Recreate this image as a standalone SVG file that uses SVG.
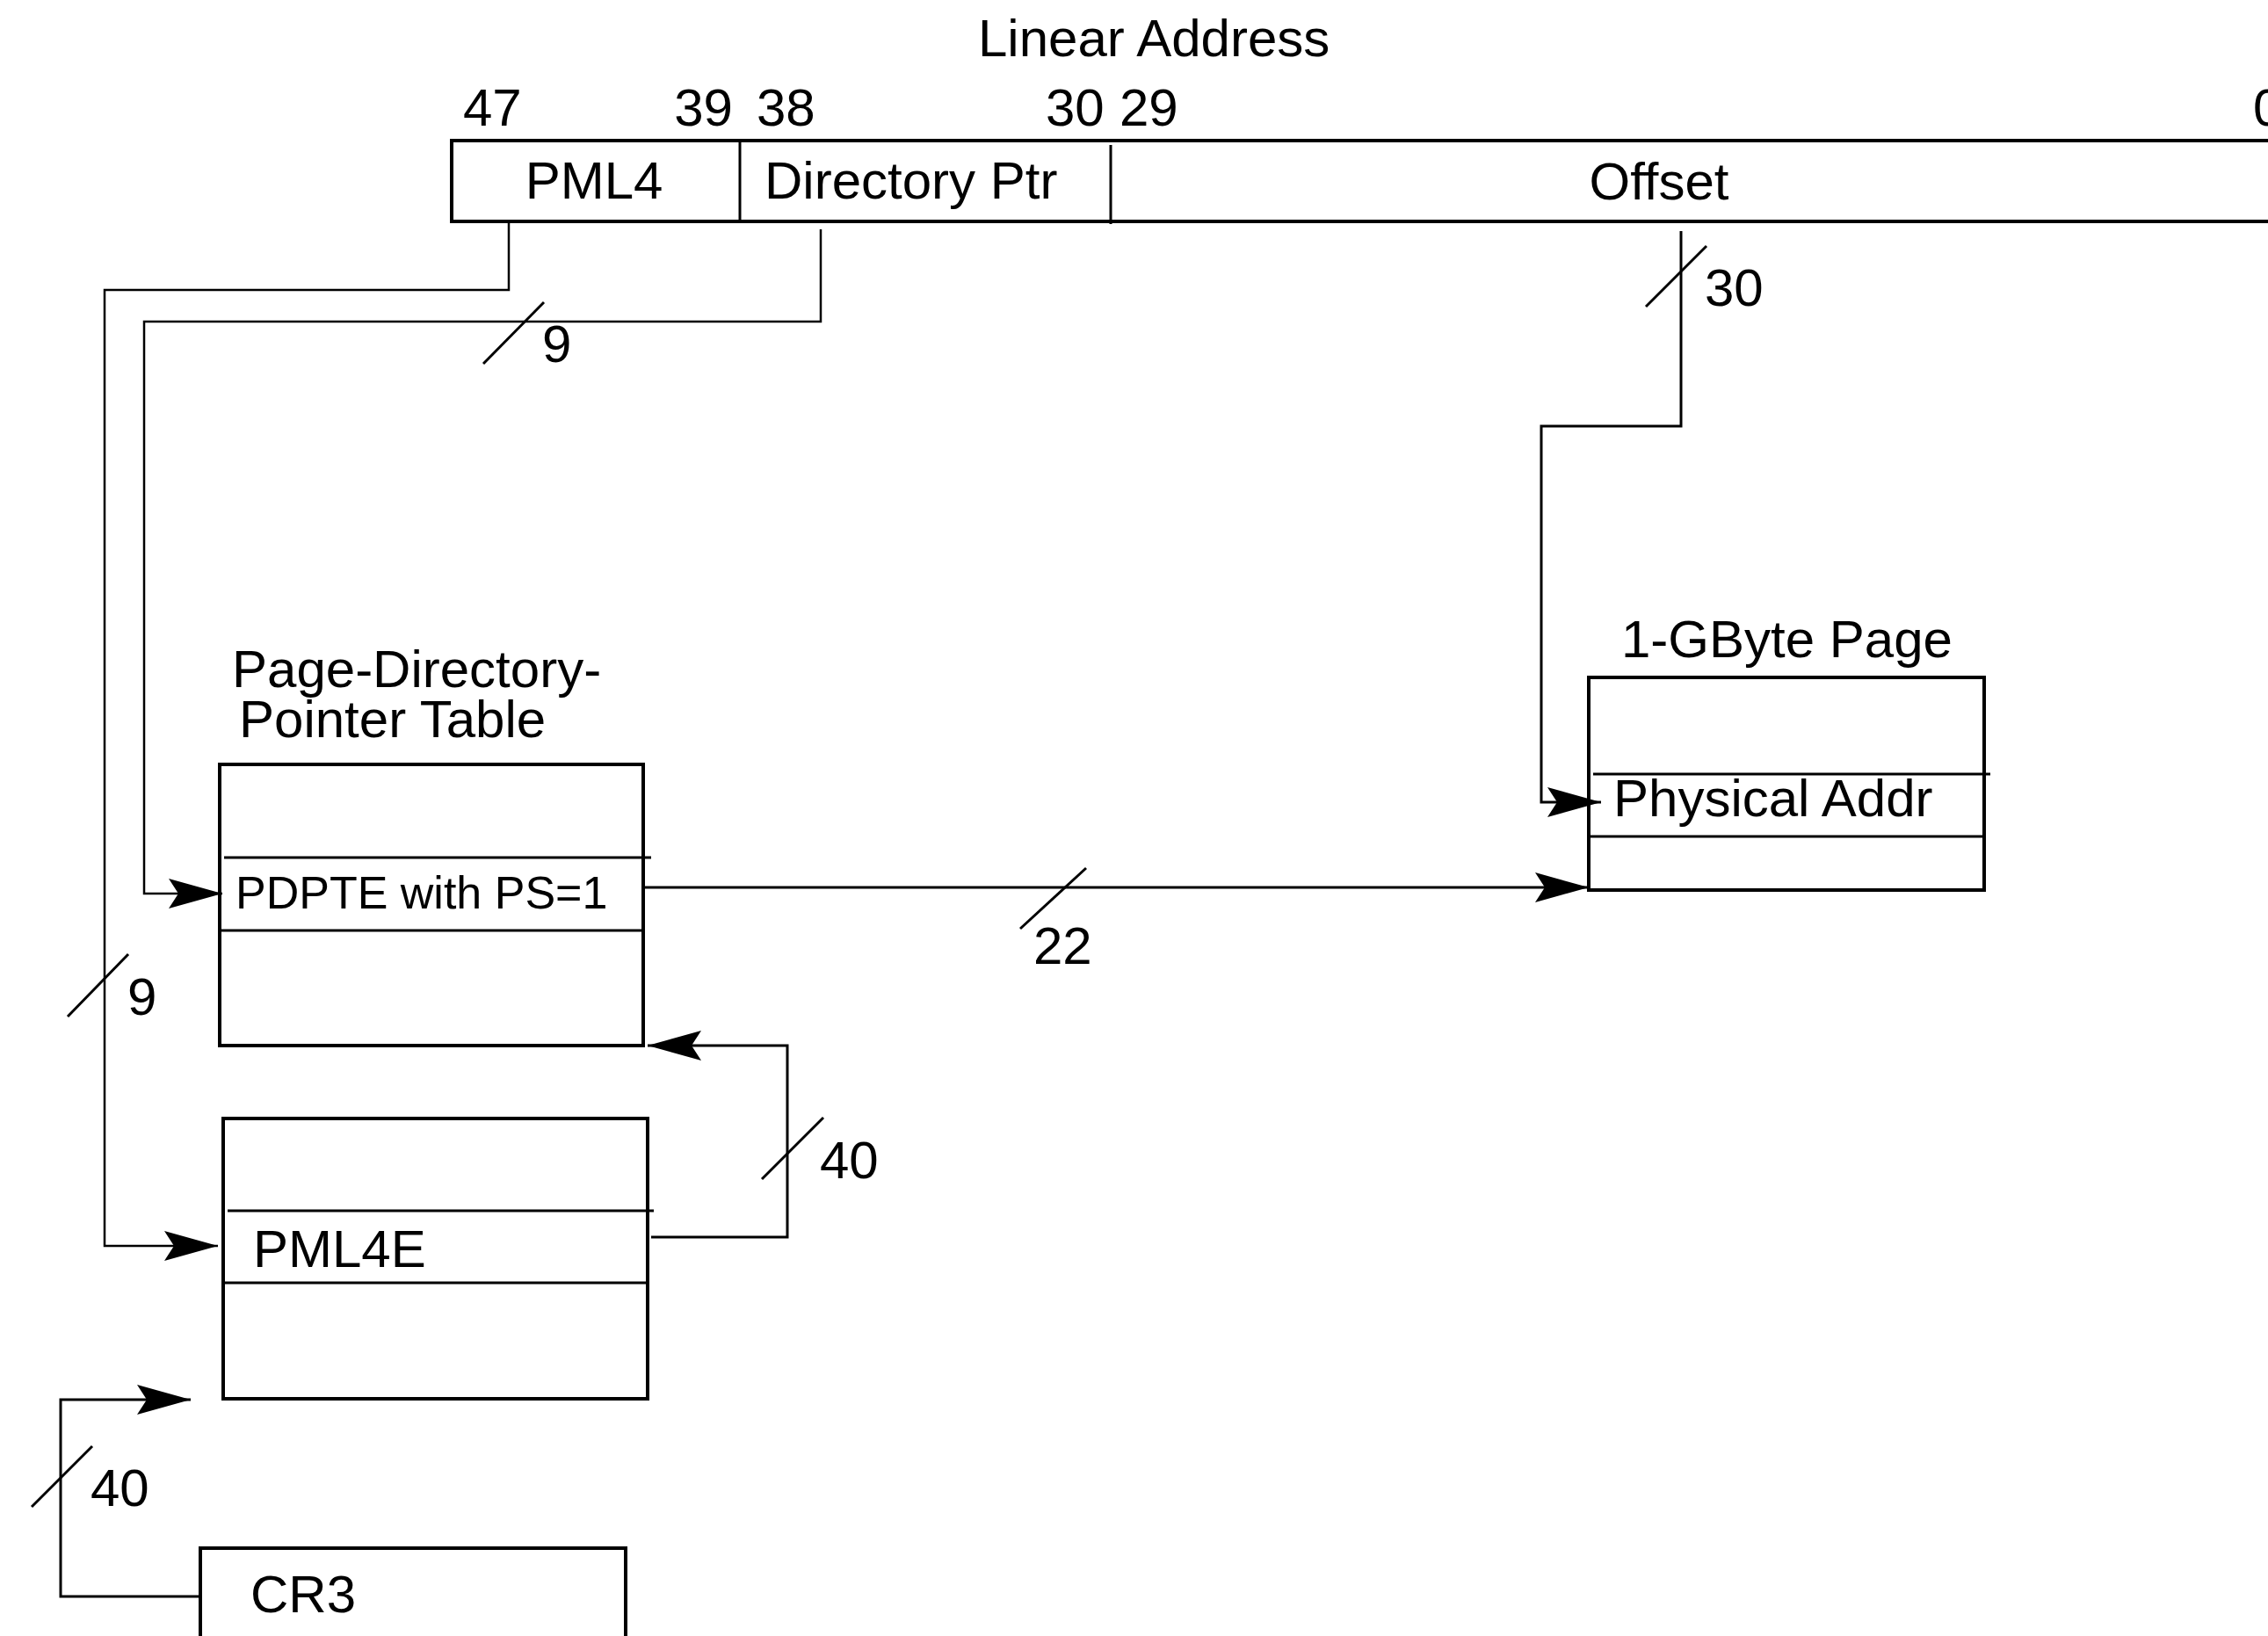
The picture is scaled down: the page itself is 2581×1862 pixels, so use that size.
<svg xmlns="http://www.w3.org/2000/svg" width="2581" height="1862" viewBox="0 0 2581 1862">
  <style>
    text { font-family: "Liberation Sans", Arial, sans-serif; font-size: 60px; fill: #000; }
    .small { font-size: 52px; }
    .box { fill: none; stroke: #000; stroke-width: 4; }
    .row { stroke: #000; stroke-width: 3; fill: none; }
    .wire { fill: none; stroke: #000; stroke-width: 3; }
    .thin { fill: none; stroke: #000; stroke-width: 2.5; }
    .slash { stroke: #000; stroke-width: 3; }
  </style>
  <defs>
    <marker id="arrow" markerUnits="userSpaceOnUse" viewBox="-62 -18 64 36" markerWidth="64" markerHeight="36" refX="0" refY="0" orient="auto">
      <path d="M0,0 L-61,-17 L-50,0 L-61,17 Z" fill="#000"/>
    </marker>
  </defs>

  <rect width="2581" height="1862" fill="#fff"/>

  <!-- Linear address register -->
  <g id="linear-address">
    <text x="1113" y="64">Linear Address</text>
    <text x="527" y="143">47</text>
    <text x="834" y="143" text-anchor="end">39</text>
    <text x="861" y="143">38</text>
    <text x="1190" y="143">30</text>
    <text x="1274" y="143">29</text>
    <text x="2564" y="143">0</text>
    <path class="box" d="M2590,160 H514 V252 H2590"/>
    <line class="row" x1="842" y1="160" x2="842" y2="252"/>
    <line class="row" x1="1264" y1="165" x2="1264" y2="255"/>
    <text x="676" y="226" text-anchor="middle">PML4</text>
    <text x="870" y="226">Directory Ptr</text>
    <text x="1888" y="227" text-anchor="middle">Offset</text>
  </g>

  <!-- Page-directory-pointer table -->
  <g id="pdpt">
    <text x="264" y="782">Page-Directory-</text>
    <text x="272" y="839">Pointer Table</text>
    <rect class="box" x="250" y="870" width="482" height="320"/>
    <line class="row" x1="255" y1="976" x2="741" y2="976"/>
    <line class="row" x1="250" y1="1059" x2="734" y2="1059"/>
    <text class="small" x="268" y="1034">PDPTE with PS=1</text>
  </g>

  <!-- PML4 table -->
  <g id="pml4-table">
    <rect class="box" x="254" y="1273" width="483" height="319"/>
    <line class="row" x1="259" y1="1378" x2="744" y2="1378"/>
    <line class="row" x1="254" y1="1460" x2="737" y2="1460"/>
    <text x="288" y="1442">PML4E</text>
  </g>

  <!-- 1-GByte page -->
  <g id="page-1g">
    <text x="1845" y="748">1-GByte Page</text>
    <rect class="box" x="1808" y="771" width="450" height="242"/>
    <line class="row" x1="1813" y1="881" x2="2265" y2="881"/>
    <line class="row" x1="1808" y1="952" x2="2258" y2="952"/>
    <text x="1836" y="929">Physical Addr</text>
  </g>

  <!-- CR3 register -->
  <g id="cr3">
    <rect class="box" x="228" y="1762" width="484" height="140"/>
    <text x="285" y="1835">CR3</text>
  </g>

  <!-- Connectors with bus-width ticks -->
  <g id="connectors">
    <path class="thin" d="M579,252 V330 H119 V1418 H248" marker-end="url(#arrow)"/>
    <path class="thin" d="M934,261 V366 H164 V1017 H253" marker-end="url(#arrow)"/>
    <path class="wire" d="M1913,263 V485 H1754 V913 H1822" marker-end="url(#arrow)"/>
    <path class="wire" d="M732,1010 H1808" marker-end="url(#arrow)"/>
    <path class="wire" d="M741,1408 H896 V1190 H737" marker-end="url(#arrow)"/>
    <path class="wire" d="M228,1817 H69 V1593 H217" marker-end="url(#arrow)"/>

    <line class="slash" x1="550" y1="414" x2="619" y2="344"/>
    <line class="slash" x1="77" y1="1157" x2="146" y2="1086"/>
    <line class="slash" x1="1873" y1="349" x2="1942" y2="280"/>
    <line class="slash" x1="1161" y1="1057" x2="1236" y2="988"/>
    <line class="slash" x1="867" y1="1342" x2="937" y2="1272"/>
    <line class="slash" x1="36" y1="1715" x2="105" y2="1646"/>

    <text x="617" y="412">9</text>
    <text x="145" y="1155">9</text>
    <text x="1940" y="348">30</text>
    <text x="1176" y="1097">22</text>
    <text x="933" y="1341">40</text>
    <text x="103" y="1714">40</text>
  </g>
</svg>
